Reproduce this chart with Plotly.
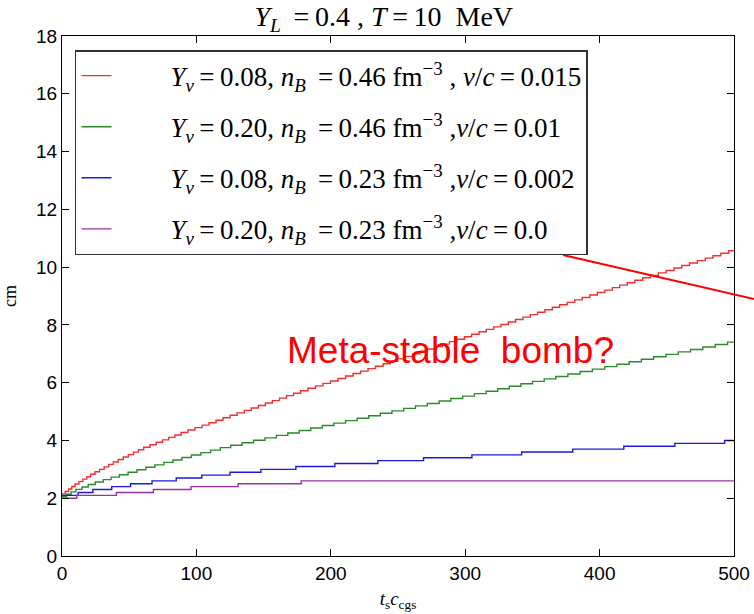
import plotly.graph_objects as go

# ---- data (staircase curves) ----
x_range = [0, 500]

# red: Y_nu=0.08, n_B=0.46, v/c=0.015
red_start = 2.15
red_step = 0.085
red_step_x = [2.4, 4.9, 7.3, 9.7, 12.6, 15.5, 18.5, 21.3, 24.6, 28.0, 31.4, 34.8, 38.2,
              41.8, 45.6, 49.3, 53.1, 56.9, 60.8, 65.5, 70.1, 74.8, 79.3, 84.0, 88.6,
              93.7, 98.9, 104.2, 109.4, 114.6, 119.8, 125.1, 130.3, 135.6, 140.8, 146.1,
              151.3, 156.5, 161.8, 167.0, 172.3, 177.5, 183.0, 188.6, 194.2, 199.8, 205.4,
              211.0, 216.6, 222.2, 227.7, 233.3, 238.9, 244.3, 249.8, 255.3, 260.8, 266.4,
              271.9, 277.4, 282.9, 288.3, 293.8, 299.4, 304.8, 310.3, 315.7, 321.2, 326.6,
              332.1, 337.5, 343.0, 348.4, 353.8, 359.3, 364.8, 370.3, 375.9, 381.5, 387.1,
              392.7, 398.3, 403.9, 409.5, 415.0, 420.6, 426.2, 432.1, 437.9, 443.7, 449.5,
              455.3, 461.1, 466.9, 472.7, 478.6, 484.4, 490.2, 496.0]

# green: Y_nu=0.20, n_B=0.46, v/c=0.01
green_start = 2.05
green_step = 0.085
green_step_x = [3.4, 6.8, 10.3, 14.9, 19.5, 24.8, 30.7, 36.5, 42.7, 49.2, 55.8, 62.4, 69.1,
                75.8, 82.5, 89.2, 96.3, 103.4, 110.6, 117.8, 125.5, 134.0, 142.5, 151.0,
                159.5, 168.0, 176.5, 185.1, 193.7, 202.3, 211.0, 219.6, 228.2, 236.8, 245.5,
                254.3, 263.0, 271.8, 280.6, 289.3, 298.1, 306.9, 315.6, 324.2, 332.8, 341.5,
                350.1, 358.8, 367.4, 376.4, 385.5, 394.6, 403.8, 412.9, 422.0, 431.1, 440.2,
                449.4, 458.5, 467.7, 476.8, 486.0, 495.2]

# blue: Y_nu=0.08, n_B=0.23, v/c=0.002
blue_start = 2.1
blue_step = 0.1
blue_step_x = [12, 23, 37, 51, 67, 85, 104, 125, 148, 174, 203, 235, 269, 305, 342, 380,
               418, 456, 493]

# purple: Y_nu=0.20, n_B=0.23, v/c=0.0
purple_start = 2.0
purple_step = 0.1
purple_step_x = [11, 40.5, 68, 96, 131, 178]

x_ticks = [0, 100, 200, 300, 400, 500]
y_ticks = [0, 2, 4, 6, 8, 10, 12, 14, 16, 18]

EQ = "\u2009=\u2009"
names = [
    f"<i>Y</i><sub><i>ν</i></sub>{EQ}0.08, <i>n</i><sub><i>B</i></sub> {EQ}0.46 fm<sup>−3</sup> , <i>v</i>/<i>c</i>{EQ}0.015",
    f"<i>Y</i><sub><i>ν</i></sub>{EQ}0.20, <i>n</i><sub><i>B</i></sub> {EQ}0.46 fm<sup>−3</sup> ,<i>v</i>/<i>c</i>{EQ}0.01",
    f"<i>Y</i><sub><i>ν</i></sub>{EQ}0.08, <i>n</i><sub><i>B</i></sub> {EQ}0.23 fm<sup>−3</sup> ,<i>v</i>/<i>c</i>{EQ}0.002",
    f"<i>Y</i><sub><i>ν</i></sub>{EQ}0.20, <i>n</i><sub><i>B</i></sub> {EQ}0.23 fm<sup>−3</sup> ,<i>v</i>/<i>c</i>{EQ}0.0",
]
colors = ["#f03030", "#2a8c2a", "#1a1ae0", "#9a30a8"]


def staircase(start, step, xs):
    px = [x_range[0]] + list(xs) + [x_range[1]]
    py = [start]
    level = start
    for _ in xs:
        level += step
        py.append(round(level, 4))
    py.append(py[-1])
    return px, py


series = [
    (red_start, red_step, red_step_x),
    (green_start, green_step, green_step_x),
    (blue_start, blue_step, blue_step_x),
    (purple_start, purple_step, purple_step_x),
]

fig = go.Figure()
pad = "\u2003\u2003"
for i, (s, h, xs) in enumerate(series):
    px, py = staircase(s, h, xs)
    fig.add_trace(go.Scatter(
        x=px, y=py, mode="lines", line_shape="hv",
        line=dict(color=colors[i], width=1.4),
        name=pad + names[i], legendgroup=f"g{i}",
    ))

serif = "Liberation Serif, Times New Roman, serif"
sans = "Liberation Sans, Arial, sans-serif"

fig.update_layout(
    width=754, height=614,
    margin=dict(l=62, r=20, t=36, b=58, autoexpand=False),
    paper_bgcolor="white", plot_bgcolor="white",
    showlegend=True,
    title=dict(
        text=f"<i>Y</i><sub><i>L</i></sub> {EQ}0.4 , <i>T</i>{EQ}10\u2002MeV",
        x=0.509, xanchor="center", y=0.99, yanchor="top",
        font=dict(family=serif, size=28, color="black"),
    ),
    legend=dict(
        x=0.0193, y=0.973, xanchor="left", yanchor="top",
        bgcolor="white", bordercolor="#333", borderwidth=1.5,
        font=dict(family=serif, size=27, color="black"),
        tracegroupgap=13,
        traceorder="grouped",
    ),
    font=dict(family=sans, color="black"),
)

axis_common = dict(
    showline=True, linecolor="black", linewidth=1.2, mirror="ticks",
    ticks="inside", ticklen=7, tickwidth=1, tickcolor="black",
    showgrid=False, zeroline=False, automargin=False,
    tickfont=dict(family=sans, size=19, color="black"),
)
fig.update_xaxes(
    range=x_range, tickvals=x_ticks, **axis_common,
    title=dict(text="<i>t</i><sub>s</sub><i>c</i><sub>cgs</sub>",
               font=dict(family=serif, size=19), standoff=8),
)
fig.update_yaxes(
    range=[0, 18], tickvals=y_ticks, **axis_common,
    title=dict(text="cm", font=dict(family=serif, size=18), standoff=14),
)

fig.add_annotation(
    x=289, y=7.13, xref="x", yref="y",
    text="Meta-stable\u00a0\u00a0bomb?", showarrow=False,
    font=dict(family=sans, size=37, color="#ff0000"),
)

fig.add_shape(
    type="line", xref="paper", yref="paper",
    x0=0.7455, y0=0.5788, x1=1.03, y1=0.4942,
    line=dict(color="#ff0000", width=2),
)

fig.write_html("out.html")
